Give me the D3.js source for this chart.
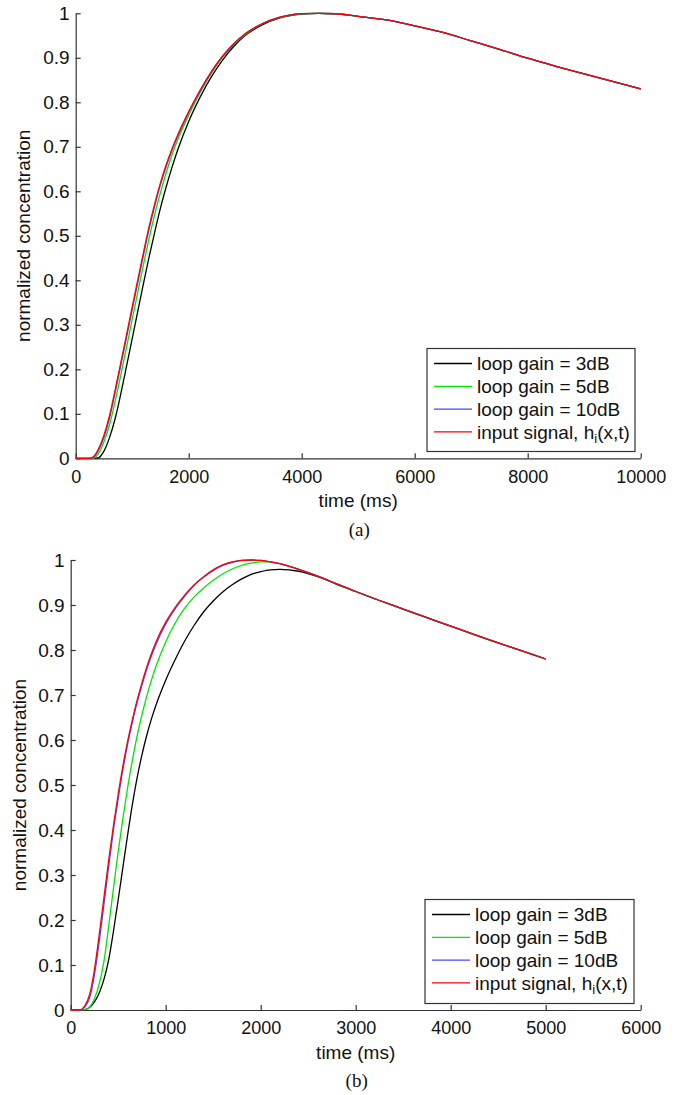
<!DOCTYPE html>
<html>
<head>
<meta charset="utf-8">
<script src="https://cdn.jsdelivr.net/npm/d3@7"></script>
<style>
  html, body { margin: 0; padding: 0; background: #fff; }
  svg { display: block; font-family: "Liberation Sans", Arial, sans-serif; }
</style>
</head>
<body>
<svg id="chart" width="679" height="1095"></svg>
<script>
// ---------- Data ----------
const seriesNames = ["loop gain = 3dB", "loop gain = 5dB", "loop gain = 10dB", "input signal"];
const seriesColors = ["#000000", "#00e600", "#4646ff", "#ff0000"];

// Panel (a)
const timeA  = [0, 100, 200, 255, 300, 400, 500, 600, 700, 800, 900, 1000, 1100, 1200, 1300, 1400, 1500, 1600, 1700, 1800, 2000, 2200, 2400, 2600, 2800, 3000, 3300, 3600, 4000, 4300, 4600, 5000, 5500, 6000, 6500, 7000, 7500, 8000, 8500, 9000, 9500, 10000];
const gain3A = [0, 0, 0, 0, 0, 0.001, 0.016, 0.047, 0.09, 0.146, 0.207, 0.269, 0.331, 0.393, 0.453, 0.509, 0.562, 0.609, 0.652, 0.691, 0.757, 0.811, 0.857, 0.895, 0.926, 0.95, 0.974, 0.989, 0.998, 1.0, 0.999, 0.993, 0.985, 0.972, 0.957, 0.938, 0.919, 0.899, 0.881, 0.864, 0.847, 0.83];
const gain5A = [0, 0, 0, 0, 0, 0.01, 0.037, 0.076, 0.129, 0.188, 0.25, 0.312, 0.374, 0.436, 0.495, 0.549, 0.597, 0.641, 0.68, 0.714, 0.771, 0.821, 0.865, 0.901, 0.93, 0.952, 0.976, 0.99, 0.999, 1.0, 0.999, 0.993, 0.985, 0.972, 0.957, 0.938, 0.919, 0.899, 0.881, 0.864, 0.847, 0.83];
const gain10A = [0, 0, 0, 0, 0.001, 0.017, 0.047, 0.091, 0.149, 0.21, 0.272, 0.334, 0.396, 0.457, 0.516, 0.568, 0.615, 0.655, 0.691, 0.722, 0.777, 0.825, 0.867, 0.903, 0.931, 0.954, 0.9765, 0.9906, 0.9994, 1.0, 0.999, 0.993, 0.985, 0.972, 0.957, 0.938, 0.919, 0.899, 0.881, 0.864, 0.847, 0.83];
const inputA = [0, 0, 0, 0, 0.002, 0.02, 0.052, 0.097, 0.155, 0.216, 0.278, 0.34, 0.402, 0.463, 0.521, 0.573, 0.619, 0.659, 0.694, 0.725, 0.779, 0.827, 0.869, 0.904, 0.932, 0.954, 0.9765, 0.9906, 0.9994, 1.0, 0.999, 0.993, 0.985, 0.972, 0.957, 0.938, 0.919, 0.899, 0.881, 0.864, 0.847, 0.83];

// Panel (b)
const timeB  = [0, 50, 90, 150, 200, 250, 300, 350, 400, 450, 500, 550, 600, 650, 700, 750, 800, 850, 900, 1000, 1100, 1200, 1300, 1400, 1500, 1600, 1700, 1800, 1900, 2000, 2100, 2200, 2400, 2600, 2800, 3000, 3250, 3500, 3750, 4000, 4250, 4500, 4750, 5000];
const gain3B = [0, 0, 0, 0.001, 0.006, 0.018, 0.038, 0.068, 0.112, 0.175, 0.245, 0.318, 0.39, 0.458, 0.517, 0.567, 0.61, 0.647, 0.679, 0.733, 0.779, 0.82, 0.855, 0.885, 0.909, 0.929, 0.945, 0.958, 0.968, 0.974, 0.978, 0.979, 0.975, 0.963, 0.946, 0.93, 0.91, 0.891, 0.872, 0.853, 0.834, 0.816, 0.798, 0.78];
const gain5B = [0, 0, 0, 0.001, 0.007, 0.025, 0.058, 0.108, 0.187, 0.27, 0.352, 0.427, 0.495, 0.556, 0.61, 0.656, 0.697, 0.733, 0.765, 0.818, 0.86, 0.893, 0.918, 0.938, 0.955, 0.969, 0.98, 0.988, 0.993, 0.996, 0.996, 0.992, 0.979, 0.964, 0.947, 0.93, 0.91, 0.891, 0.872, 0.853, 0.834, 0.816, 0.798, 0.78];
const gain10B = [0, 0, 0, 0.007, 0.028, 0.078, 0.152, 0.235, 0.32, 0.4, 0.47, 0.535, 0.592, 0.641, 0.684, 0.722, 0.757, 0.787, 0.814, 0.858, 0.892, 0.92, 0.944, 0.962, 0.977, 0.988, 0.995, 0.999, 1.0, 0.999, 0.996, 0.992, 0.979, 0.964, 0.947, 0.93, 0.91, 0.891, 0.872, 0.853, 0.834, 0.816, 0.798, 0.78];
const inputB = [0, 0, 0, 0.01, 0.035, 0.09, 0.167, 0.25, 0.333, 0.41, 0.48, 0.543, 0.598, 0.646, 0.689, 0.727, 0.762, 0.792, 0.819, 0.862, 0.895, 0.922, 0.945, 0.963, 0.978, 0.989, 0.996, 0.999, 1.0, 0.999, 0.996, 0.992, 0.979, 0.964, 0.947, 0.93, 0.91, 0.891, 0.872, 0.853, 0.834, 0.816, 0.798, 0.78];

const yTicks = [0, 0.1, 0.2, 0.3, 0.4, 0.5, 0.6, 0.7, 0.8, 0.9, 1];
const xTicksA = [0, 2000, 4000, 6000, 8000, 10000];
const xTicksB = [0, 1000, 2000, 3000, 4000, 5000, 6000];

// ---------- Drawing ----------
const svg = d3.select("#chart");
const AX = "#333";
const FS = 18;

function panel(cfg) {
  const x = d3.scaleLinear().domain(cfg.xDomain).range([cfg.left, cfg.right]);
  const y = d3.scaleLinear().domain([0, 1]).range([cfg.bottom, cfg.top]);
  const g = svg.append("g");

  const ya = g.append("g").attr("transform", `translate(${cfg.left},0)`)
    .call(d3.axisLeft(y).tickValues(yTicks).tickSizeInner(-5).tickSizeOuter(0).tickPadding(6)
      .tickFormat(d => (d === 0 || d === 1) ? String(d) : d3.format(".1f")(d)));
  const xa = g.append("g").attr("transform", `translate(0,${cfg.bottom})`)
    .call(d3.axisBottom(x).tickValues(cfg.xTicks).tickSizeInner(-5).tickSizeOuter(0).tickPadding(cfg.xPad).tickFormat(d3.format("d")));
  [ya, xa].forEach(a => {
    a.select(".domain").attr("stroke", AX).attr("stroke-width", 1.2);
    a.selectAll(".tick line").attr("stroke", AX).attr("stroke-width", 1.2);
    a.selectAll(".tick text").attr("fill", "#111").style("font-family", '"Liberation Sans", Arial, sans-serif');
  });
  ya.selectAll(".tick text").style("font-size", "19px");
  xa.selectAll(".tick text").style("font-size", FS + "px");

  const line = d3.line().x((d, i) => x(cfg.time[i])).y(d => y(d)).curve(d3.curveMonotoneX);
  cfg.series.forEach((s, k) => {
    g.append("path").datum(s).attr("d", line)
      .attr("fill", "none").attr("stroke", seriesColors[k]).attr("stroke-width", 1.3);
  });

  g.append("text").attr("transform", `translate(${cfg.ylabX},${(cfg.top + cfg.bottom) / 2}) rotate(-90)`)
    .attr("text-anchor", "middle").style("font-size", "19px").attr("fill", "#111")
    .text("normalized concentration");
  g.append("text").attr("x", (cfg.left + cfg.right) / 2).attr("y", cfg.xlabY)
    .attr("text-anchor", "middle").style("font-size", "19px").attr("fill", "#111")
    .text("time (ms)");
  g.append("text").attr("x", (cfg.left + cfg.right) / 2 + 1).attr("y", cfg.capY)
    .attr("text-anchor", "middle").style("font-size", "19px")
    .style("font-family", '"Liberation Serif", "Times New Roman", serif').attr("fill", "#111")
    .text(cfg.caption);

  const L = cfg.legend;
  const lg = g.append("g");
  lg.append("rect").attr("x", L.x).attr("y", L.y).attr("width", L.w).attr("height", L.h)
    .attr("fill", "#fff").attr("stroke", AX).attr("stroke-width", 1.2);
  seriesNames.forEach((name, k) => {
    const cy = L.y + 15 + k * 22.8;
    lg.append("line").attr("x1", L.x + 7).attr("x2", L.x + 45).attr("y1", cy).attr("y2", cy)
      .attr("stroke", seriesColors[k]).attr("stroke-width", 1.3);
    const t = lg.append("text").attr("x", L.x + 50).attr("y", cy + 6.8)
      .style("font-size", "19px").attr("fill", "#111");
    if (k === 3) {
      t.append("tspan").text("input signal, h");
      t.append("tspan").attr("dy", 4).style("font-size", "13px").text("i");
      t.append("tspan").attr("dy", -4).text("(x,t)");
    } else {
      t.text(name);
    }
  });
}

panel({
  xDomain: [0, 10000], xTicks: xTicksA, left: 75.7, right: 640.7, top: 13.3, bottom: 458.3,
  time: timeA, series: [gain3A, gain5A, gain10A, inputA], xPad: 12,
  ylabX: 30, xlabY: 507, capY: 536, caption: "(a)",
  legend: { x: 427, y: 348.5, w: 208, h: 103 }
});
panel({
  xDomain: [0, 6000], xTicks: xTicksB, left: 70.7, right: 640.7, top: 560, bottom: 1010,
  time: timeB, series: [gain3B, gain5B, gain10B, inputB], xPad: 11,
  ylabX: 26, xlabY: 1059, capY: 1087, caption: "(b)",
  legend: { x: 425, y: 899.5, w: 209, h: 104 }
});
</script>
</body>
</html>
